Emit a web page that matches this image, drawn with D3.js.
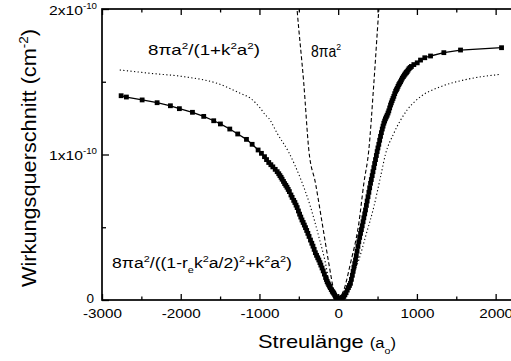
<!DOCTYPE html>
<html>
<head>
<meta charset="utf-8">
<script src="https://cdn.jsdelivr.net/npm/d3@7"></script>
<style>
  body { margin: 0; background: #fff; }
  svg { display: block; font-family: "Liberation Sans", Arial, sans-serif; }
</style>
</head>
<body>
<div id="chart"></div>
<script>
// x ticks (scattering length, a0)
const xMajor = [-3000, -2000, -1000, 0, 1000, 2000];
const xMinor = [-2500, -1500, -500, 500, 1500];
// y ticks, in units of 1e-10 cm^2
const yMajor = [0, 1, 2];
const yMinor = [0.5, 1.5];
const yLabels = ['0', '1x10', '2x10'];

// measured cross section (squares, joined by line) [a, sigma/1e-10]
const dataA = [-2757, -2690, -2490, -2300, -2131, -2017, -1851, -1708, -1581, -1496, -1377, -1276, -1165, -1093,
  -1017, -975, -936, -910, -882, -855, -830, -800, -775, -755, -740, -725, -712, -695, -680, -665, -650, -635, -620,
  -600, -585, -565, -550, -535, -521, -505, -490, -475, -460, -445, -430, -415, -400, -385, -370,
  -352, -335, -320, -305, -290, -275, -260, -246, -232, -220, -205, -190, -175, -160, -150, -140, -130, -120, -110,
  -100, -88, -75, -65, -56, -45, -35, -25, -15, -5, 0,
  5, 15, 25, 35, 45, 55, 63, 72, 85, 100, 115, 130, 143, 156, 168, 180, 190, 200, 210, 220, 230, 240, 251, 262,
  273, 284, 295, 305, 316, 326, 337, 347, 358, 368, 379, 390, 400, 411, 421, 432, 442, 453, 463, 474,
  485, 495, 505, 516, 527, 538, 549, 560, 570, 580, 590, 600, 611, 622, 633, 643, 654, 665, 675, 685, 696,
  707, 718, 730, 740, 750, 760, 770, 781, 792, 803, 815, 828, 840, 850, 860, 868, 876, 888, 900, 915, 930,
  961, 1004, 1046, 1100, 1173, 1342, 1554, 2075];
const dataS = [1.404, 1.395, 1.375, 1.356, 1.335, 1.315, 1.290, 1.262, 1.232, 1.210, 1.175, 1.141, 1.104, 1.070,
  1.031, 1.008, 0.985, 0.965, 0.945, 0.930, 0.915, 0.898, 0.882, 0.868, 0.855, 0.843, 0.830, 0.815, 0.800, 0.788, 0.775, 0.760, 0.745,
  0.722, 0.705, 0.685, 0.670, 0.652, 0.635, 0.612, 0.590, 0.570, 0.550, 0.533, 0.515, 0.497, 0.478, 0.458, 0.437,
  0.412, 0.390, 0.370, 0.348, 0.325, 0.307, 0.290, 0.275, 0.257, 0.240, 0.220, 0.200, 0.178, 0.155, 0.141, 0.126, 0.116, 0.105, 0.095,
  0.085, 0.072, 0.060, 0.053, 0.046, 0.035, 0.025, 0.016, 0.008, 0.004, 0.002,
  0.003, 0.006, 0.009, 0.012, 0.015, 0.018, 0.021, 0.025, 0.036, 0.050, 0.068, 0.085, 0.100, 0.115, 0.142, 0.170, 0.197, 0.225, 0.250, 0.275, 0.305, 0.335, 0.368, 0.400,
  0.430, 0.458, 0.484, 0.510, 0.538, 0.565, 0.592, 0.619, 0.650, 0.680, 0.710, 0.740, 0.771, 0.802, 0.828, 0.855, 0.882, 0.910, 0.938, 0.965,
  0.993, 1.020, 1.045, 1.070, 1.098, 1.125, 1.150, 1.175, 1.195, 1.215, 1.230, 1.245, 1.258, 1.270, 1.285, 1.300, 1.320, 1.340, 1.355, 1.370, 1.385,
  1.400, 1.418, 1.435, 1.445, 1.455, 1.468, 1.480, 1.490, 1.500, 1.512, 1.525, 1.535, 1.545, 1.553, 1.560, 1.565, 1.570, 1.580, 1.590, 1.598, 1.605,
  1.618, 1.630, 1.649, 1.665, 1.677, 1.700, 1.718, 1.734];

// 8 pi a^2 / (1 + k^2 a^2)  (dotted)
const dotA = [-2775, -2385, -1962, -1537, -1241, -1114, -987, -924, -882, -775, -628, -479, -352, -246, -161, -119, -80, -40, 0,
  40, 100, 180, 262, 347, 453, 538, 600, 707, 876, 1046, 1300, 1596, 2062];
const dotS = [1.581, 1.558, 1.535, 1.489, 1.420, 1.386, 1.317, 1.271, 1.249, 1.146, 1.015, 0.835, 0.641, 0.435, 0.252, 0.137, 0.070, 0.020, 0,
  0.020, 0.070, 0.160, 0.275, 0.435, 0.641, 0.847, 1.000, 1.146, 1.306, 1.397, 1.466, 1.512, 1.551];

// 8 pi a^2  (dashed)
const dashLA = [-540, -521, -437, -373, -288, -203, -119, -56, 0];
const dashLS = [2.12, 1.99, 1.489, 1.031, 0.802, 0.527, 0.252, 0.069, 0];
const dashRA = [0, 72, 156, 262, 326, 389, 453, 516, 535];
const dashRS = [0, 0.069, 0.252, 0.527, 0.802, 1.031, 1.489, 1.99, 2.12];

const width = 511, height = 361;
const L = 102, T = 9, B = 300, R = 535;
const SX = 1.13; // horizontal stretch of tick lettering

const svg = d3.select('#chart').append('svg')
  .attr('width', width)
  .attr('height', height);

const x = d3.scaleLinear().domain([-3000, 2500]).range([L, R]);
const y = d3.scaleLinear().domain([0, 2]).range([B, T]);

svg.append('clipPath').attr('id', 'clip')
  .append('rect').attr('x', L).attr('y', T).attr('width', R - L).attr('height', B - T);

const plot = svg.append('g').attr('clip-path', 'url(#clip)');

const zip = (a, s) => a.map((v, i) => ({ a: v, s: s[i] }));
const smooth = d3.line().x(d => x(d.a)).y(d => y(d.s)).curve(d3.curveMonotoneX);

// theory curves
plot.append('path').datum(zip(dotA, dotS))
  .attr('d', smooth)
  .attr('fill', 'none').attr('stroke', '#000').attr('stroke-width', 1.1)
  .attr('stroke-dasharray', '1.2 2.4');

[[dashLA, dashLS], [dashRA, dashRS]].forEach(([a, s]) => {
  plot.append('path').datum(zip(a, s))
    .attr('d', smooth)
    .attr('fill', 'none').attr('stroke', '#000').attr('stroke-width', 1.1)
    .attr('stroke-dasharray', '4 2.5');
});

// data
const pts = zip(dataA, dataS);
plot.append('path').datum(pts)
  .attr('d', d3.line().x(d => x(d.a)).y(d => y(d.s)))
  .attr('fill', 'none').attr('stroke', '#000').attr('stroke-width', 1.3);

plot.selectAll('.sq').data(pts).enter().append('rect')
  .attr('class', 'sq')
  .attr('x', d => x(d.a) - 2.4)
  .attr('y', d => y(d.s) - 2.4)
  .attr('width', 4.8).attr('height', 4.8)
  .attr('fill', '#000');

// axes: ticks point inwards
function styleAxis(g) {
  g.select('.domain').remove();
  g.selectAll('line').attr('stroke', '#000').attr('stroke-width', 1.3);
}

svg.append('g').attr('transform', `translate(0,${B})`)
  .call(d3.axisBottom(x).tickValues(xMajor).tickSizeInner(-6).tickSizeOuter(0).tickPadding(10).tickFormat(d3.format('d')))
  .call(styleAxis)
  .call(g => g.selectAll('text')
    .attr('font-size', 13.5).attr('fill', '#000')
    .attr('font-family', '"Liberation Sans", Arial, sans-serif')
    .attr('y', 18.5).attr('dy', 0)
    .attr('transform', `scale(${SX},1)`)
    .text(d => d < 0 ? '-' + Math.abs(d) : d));
svg.append('g').attr('transform', `translate(0,${B})`)
  .call(d3.axisBottom(x).tickValues(xMinor).tickSizeInner(-3.5).tickSizeOuter(0).tickFormat(''))
  .call(styleAxis);

svg.append('g').attr('transform', `translate(0,${T})`)
  .call(d3.axisTop(x).tickValues(xMajor).tickSizeInner(-6).tickSizeOuter(0).tickFormat(''))
  .call(styleAxis);
svg.append('g').attr('transform', `translate(0,${T})`)
  .call(d3.axisTop(x).tickValues(xMinor).tickSizeInner(-3.5).tickSizeOuter(0).tickFormat(''))
  .call(styleAxis);

svg.append('g').attr('transform', `translate(${L},0)`)
  .call(d3.axisLeft(y).tickValues(yMajor).tickSizeInner(-7).tickSizeOuter(0).tickFormat(''))
  .call(styleAxis);
svg.append('g').attr('transform', `translate(${L},0)`)
  .call(d3.axisLeft(y).tickValues(yMinor).tickSizeInner(-4).tickSizeOuter(0).tickFormat(''))
  .call(styleAxis);

// frame
svg.append('rect')
  .attr('x', L).attr('y', T).attr('width', R - L).attr('height', B - T)
  .attr('fill', 'none').attr('stroke', '#000').attr('stroke-width', 1.7);

// rich text: parts are [text, 'n' | 'sup' | 'sub', fontSize?]
function rich(px, py, parts, size, opts = {}) {
  const t = svg.append('text')
    .attr('transform', `translate(${px},${py})` + (opts.rotate ? ' rotate(-90)' : ''))
    .attr('font-size', size)
    .attr('fill', '#000')
    .attr('text-anchor', opts.anchor || 'start');
  if (opts.len) t.attr('textLength', opts.len).attr('lengthAdjust', 'spacingAndGlyphs');
  let shift = 0;
  parts.forEach(([txt, kind, fs]) => {
    const target = kind === 'sup' ? -size * 0.42 : kind === 'sub' ? size * 0.3 : 0;
    const sp = t.append('tspan').attr('dy', target - shift).text(txt);
    if (kind !== 'n') sp.attr('font-size', size * 0.62);
    if (fs) sp.attr('font-size', fs);
    shift = target;
  });
  return t;
}

// y tick labels
yMajor.forEach((v, i) => {
  if (v === 0) {
    rich(94, y(v) + 3, [['0', 'n']], 13.5, { anchor: 'end' });
  } else {
    rich(97, y(v) + 5.5, [[yLabels[i], 'n'], ['-10', 'sup']], 13.5, { anchor: 'end', len: 48 });
  }
});

// annotations
rich(148, 55, [['8\u03c0a', 'n'], ['2', 'sup'], ['/(1+k', 'n'], ['2', 'sup'], ['a', 'n'], ['2', 'sup'], [')', 'n']], 15, { len: 112 });
rich(311, 57, [['8\u03c0a', 'n'], ['2', 'sup']], 16, { len: 30 });
rich(112, 268, [['8\u03c0a', 'n'], ['2', 'sup'], ['/((1-r', 'n'], ['e', 'sub'], ['k', 'n'], ['2', 'sup'],
  ['a/2)', 'n'], ['2', 'sup'], ['+k', 'n'], ['2', 'sup'], ['a', 'n'], ['2', 'sup'], [')', 'n']], 15.5, { len: 180 });

// axis titles
rich(258, 348, [['Streul\u00e4nge ', 'n'], ['(a', 'n', 14], ['o', 'sub', 9], [')', 'n', 14]], 18.5, { len: 138 });
rich(36, 158, [['Wirkungsquerschnitt (cm', 'n'], ['-2', 'sup'], [')', 'n']], 20, { rotate: true, anchor: 'middle', len: 258 });
</script>
</body>
</html>
